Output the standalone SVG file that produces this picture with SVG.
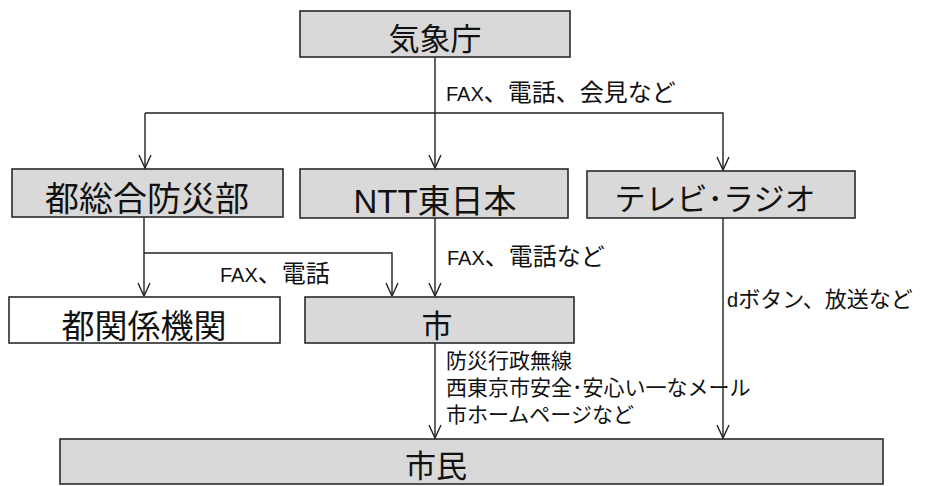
<svg xmlns="http://www.w3.org/2000/svg" width="929" height="486" viewBox="0 0 929 486">
<style>
.box{fill:#d9d9d9;stroke:#2a2a2a;stroke-width:1.6}
.wbox{fill:#ffffff;stroke:#2a2a2a;stroke-width:1.6}
.big{font-family:"Liberation Sans","Noto Sans CJK JP",sans-serif;font-size:31px;fill:#111;text-anchor:middle}
.lbl{font-family:"Liberation Sans","Noto Sans CJK JP",sans-serif;font-size:24px;fill:#111}
.lbs{font-family:"Liberation Sans","Noto Sans CJK JP",sans-serif;font-size:21px;fill:#111}
.lat{font-size:20px}
.ln{fill:none;stroke:#222;stroke-width:1.4}
</style>
<defs>
<marker id="arr" markerUnits="userSpaceOnUse" markerWidth="16" markerHeight="16" viewBox="-14 -8 16 16" refX="0" refY="0" orient="auto">
<path d="M-13,-6 L0,0 L-13,6" fill="none" stroke="#222" stroke-width="1.4"/>
</marker>
</defs>
<rect width="929" height="486" fill="#ffffff"/>
<g id="connectors">
<line class="ln" x1="435" y1="57" x2="435" y2="168" marker-end="url(#arr)"/>
<polyline class="ln" points="145,113 723,113 723,170" marker-end="url(#arr)"/>
<line class="ln" x1="145" y1="113" x2="145" y2="168" marker-end="url(#arr)"/>
<line class="ln" x1="144" y1="217" x2="144" y2="296" marker-end="url(#arr)"/>
<polyline class="ln" points="144,253 392,253 392,296" marker-end="url(#arr)"/>
<line class="ln" x1="435" y1="218" x2="435" y2="296" marker-end="url(#arr)"/>
<line class="ln" x1="435" y1="343" x2="435" y2="438" marker-end="url(#arr)"/>
<line class="ln" x1="723" y1="218" x2="723" y2="438" marker-end="url(#arr)"/>
<text class="lbl" x="446" y="101"><tspan class="lat">FAX</tspan>、電話、会見など</text>
<text class="lbl" x="220" y="282"><tspan class="lat">FAX</tspan>、電話</text>
<text class="lbl" x="447" y="265"><tspan class="lat">FAX</tspan>、電話など</text>
<text class="lbl" x="727" y="307" style="font-size:22px"><tspan class="lat">d</tspan>ボタン、放送など</text>
<text class="lbs" x="446" y="368">防災行政無線</text>
<text class="lbs" x="446" y="395">西東京市安全･安心い一なメール</text>
<text class="lbs" x="446" y="422">市ホームページなど</text>
</g>
<g id="node-kishocho">
<rect class="box" x="300" y="11" width="270" height="46"/>
<text class="big" x="435" y="50">気象庁</text>
</g>
<g id="node-tosogo">
<rect class="box" x="12" y="169" width="271" height="48"/>
<text class="big" x="147" y="211" style="font-size:34px">都総合防災部</text>
</g>
<g id="node-ntt">
<rect class="box" x="300" y="169" width="268" height="49"/>
<text class="big" x="435" y="213" style="font-size:33px">NTT東日本</text>
</g>
<g id="node-tv">
<rect class="box" x="587" y="171" width="268" height="47"/>
<text class="big" x="715" y="210">テレビ･ラジオ</text>
</g>
<g id="node-tokankei">
<rect class="wbox" x="9" y="297" width="271" height="46"/>
<text class="big" x="144" y="338" style="font-size:33px">都関係機関</text>
</g>
<g id="node-shi">
<rect class="box" x="305" y="297" width="269" height="46"/>
<text class="big" x="437" y="337">市</text>
</g>
<g id="node-shimin">
<rect class="box" x="60" y="439" width="823" height="45"/>
<text class="big" x="436" y="477">市民</text>
</g>
</svg>
